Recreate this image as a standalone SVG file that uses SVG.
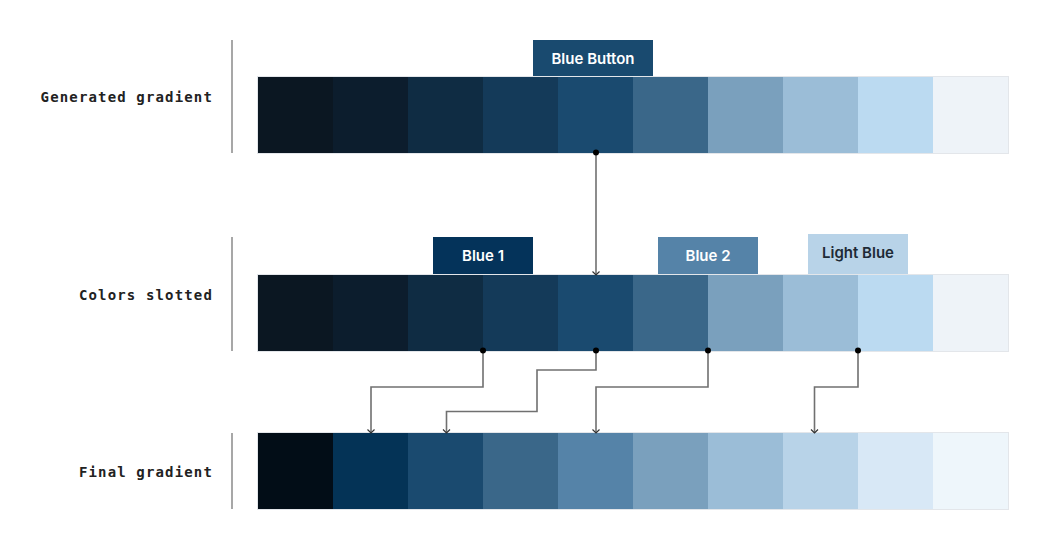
<svg xmlns="http://www.w3.org/2000/svg" width="1048" height="549" viewBox="0 0 1048 549">
<style>
.lbl{font-family:"DejaVu Sans Mono","Liberation Mono",monospace;font-weight:bold;font-size:14px;letter-spacing:1.15px;fill:#222;text-anchor:end}
.sep{stroke:#8a8a8a;stroke-width:1.5;fill:none}
.bar{fill:none;stroke:#e3e6ea;stroke-width:1}
.btn{font-family:Inter,"Open Sans",sans-serif;font-weight:600;font-size:15px;text-anchor:middle}
.conn{stroke:#707070;stroke-width:1.6;fill:none;marker-end:url(#arr)}
</style>
<defs>
<marker id="arr" viewBox="0 0 10 10" refX="9" refY="5" markerWidth="10" markerHeight="10" markerUnits="userSpaceOnUse" orient="auto">
<path d="M5.5,1.5 L9,5 L5.5,8.5" fill="none" stroke="#333" stroke-width="1.2"/>
</marker>
</defs>
<rect width="1048" height="549" fill="#fff"/>
<g id="row-generated">
<text class="lbl" x="213" y="102">Generated gradient</text>
<line class="sep" x1="232" y1="40" x2="232" y2="153"/>
<rect x="258" y="77" width="75" height="76" fill="#0b1722"/>
<rect x="333" y="77" width="75" height="76" fill="#0c1d2d"/>
<rect x="408" y="77" width="75" height="76" fill="#0f2c43"/>
<rect x="483" y="77" width="75" height="76" fill="#143a59"/>
<rect x="558" y="77" width="75" height="76" fill="#1a4a6f"/>
<rect x="633" y="77" width="75" height="76" fill="#3a6789"/>
<rect x="708" y="77" width="75" height="76" fill="#7aa0bd"/>
<rect x="783" y="77" width="75" height="76" fill="#9bbdd7"/>
<rect x="858" y="77" width="75" height="76" fill="#bbdaf1"/>
<rect x="933" y="77" width="75" height="76" fill="#eef3f8"/>
<rect class="bar" x="257.5" y="76.5" width="751" height="77"/>
</g>
<g id="btn-blue-button">
<rect x="533" y="40" width="120" height="36" fill="#194a6f"/>
<text class="btn" x="593" y="64" fill="#fff">Blue Button</text>
</g>
<g id="row-slotted">
<text class="lbl" x="213" y="300">Colors slotted</text>
<line class="sep" x1="232" y1="237" x2="232" y2="351"/>
<rect x="258" y="275" width="75" height="76" fill="#0b1722"/>
<rect x="333" y="275" width="75" height="76" fill="#0c1d2d"/>
<rect x="408" y="275" width="75" height="76" fill="#0f2c43"/>
<rect x="483" y="275" width="75" height="76" fill="#143a59"/>
<rect x="558" y="275" width="75" height="76" fill="#1a4a6f"/>
<rect x="633" y="275" width="75" height="76" fill="#3a6789"/>
<rect x="708" y="275" width="75" height="76" fill="#7aa0bd"/>
<rect x="783" y="275" width="75" height="76" fill="#9bbdd7"/>
<rect x="858" y="275" width="75" height="76" fill="#bbdaf1"/>
<rect x="933" y="275" width="75" height="76" fill="#eef3f8"/>
<rect class="bar" x="257.5" y="274.5" width="751" height="77"/>
</g>
<g id="btn-blue-1">
<rect x="433" y="237" width="100" height="37" fill="#04335a"/>
<text class="btn" x="483" y="261" fill="#fff">Blue 1</text>
</g>
<g id="btn-blue-2">
<rect x="658" y="237" width="100" height="37" fill="#5583a8"/>
<text class="btn" x="708" y="261" fill="#fff">Blue 2</text>
</g>
<g id="btn-light-blue">
<rect x="808" y="234" width="100" height="40" fill="#b8d3e8"/>
<text class="btn" x="858" y="258" fill="#1e2a36">Light Blue</text>
</g>
<g id="row-final">
<text class="lbl" x="213" y="477">Final gradient</text>
<line class="sep" x1="232" y1="433" x2="232" y2="509"/>
<rect x="258" y="433" width="75" height="76" fill="#020d17"/>
<rect x="333" y="433" width="75" height="76" fill="#043356"/>
<rect x="408" y="433" width="75" height="76" fill="#1a4a6f"/>
<rect x="483" y="433" width="75" height="76" fill="#3a6789"/>
<rect x="558" y="433" width="75" height="76" fill="#5583a8"/>
<rect x="633" y="433" width="75" height="76" fill="#7aa0bd"/>
<rect x="708" y="433" width="75" height="76" fill="#9bbdd7"/>
<rect x="783" y="433" width="75" height="76" fill="#b8d3e8"/>
<rect x="858" y="433" width="75" height="76" fill="#d8e8f6"/>
<rect x="933" y="433" width="75" height="76" fill="#eef6fb"/>
<rect class="bar" x="257.5" y="432.5" width="751" height="77"/>
</g>
<g id="connectors">
<path class="conn" d="M596,153 V275"/>
<path class="conn" d="M483,351 V387 H371 V433"/>
<path class="conn" d="M596,351 V370 H537 V411.5 H446.5 V433"/>
<path class="conn" d="M708,351 V387 H596 V433"/>
<path class="conn" d="M858,351 V387 H814.5 V433"/>
<g fill="#000">
<circle cx="596" cy="152.5" r="3"/>
<circle cx="483" cy="350.5" r="3"/>
<circle cx="596" cy="350.5" r="3"/>
<circle cx="708" cy="350.5" r="3"/>
<circle cx="858" cy="350.5" r="3"/>
</g>
</g>
</svg>
